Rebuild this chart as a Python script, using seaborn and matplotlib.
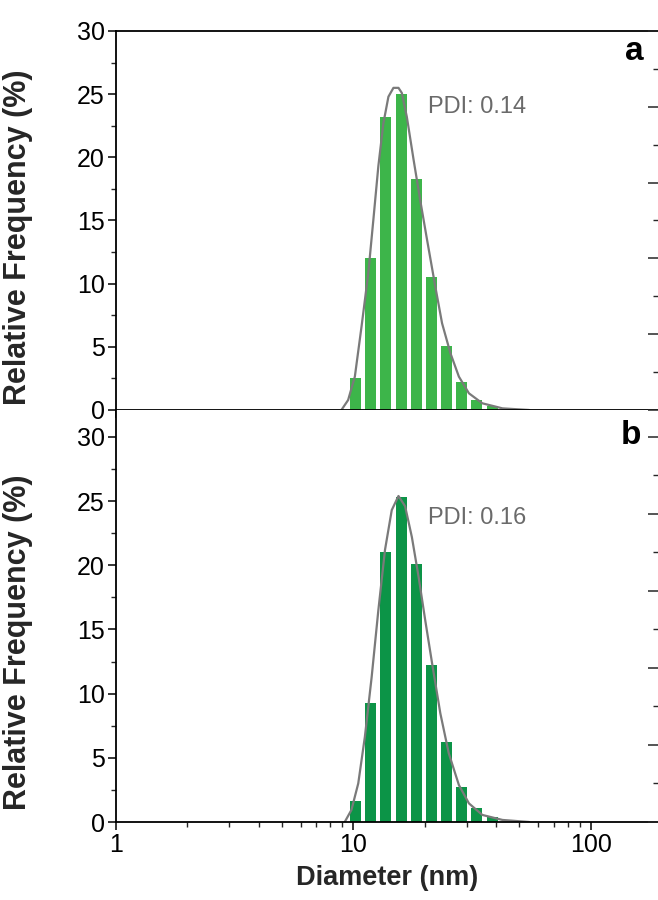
import numpy as np
import pandas as pd
import matplotlib
matplotlib.use("Agg")
import matplotlib.pyplot as plt
from matplotlib.ticker import FixedLocator, NullFormatter, MultipleLocator
import seaborn as sns

# ---------------- data ----------------
diameter_nm = [10.2, 11.8, 13.7, 15.9, 18.5, 21.4, 24.7, 28.6, 33.1, 38.4]
freq_a = [2.5, 12.0, 23.2, 25.0, 18.3, 10.5, 5.1, 2.2, 0.8, 0.3]
freq_b = [1.6, 9.3, 21.0, 25.3, 20.1, 12.2, 6.2, 2.7, 1.1, 0.4]

fit_a_x = [8.92, 9.52, 10.16, 10.84, 11.57, 12.15, 12.76, 13.40, 14.07, 14.77,
           15.51, 16.02, 16.82, 17.96, 19.15, 20.45, 22.17, 23.67, 25.67, 27.86,
           30.71, 34.97, 42.5, 55.1]
fit_a_y = [0.0, 0.79, 2.64, 6.6, 10.8, 15.0, 19.3, 22.7, 24.8, 25.5,
           25.5, 25.1, 23.2, 19.8, 16.6, 13.5, 9.76, 6.86, 4.49, 2.64,
           1.32, 0.53, 0.13, 0.0]
fit_b_x = [9.21, 9.83, 10.50, 11.20, 11.96, 12.76, 13.61, 14.53, 15.51, 16.54,
           17.66, 18.85, 20.11, 21.47, 23.27, 25.26, 27.86, 30.71, 34.97, 42.5, 55.1]
fit_b_y = [0.0, 0.94, 3.0, 6.65, 11.3, 16.5, 21.2, 24.3, 25.4, 24.6,
           22.2, 19.1, 15.7, 12.4, 8.47, 5.35, 2.88, 1.45, 0.55, 0.16, 0.0]

pdi_labels = ["PDI: 0.14", "PDI: 0.16"]
panel_labels = ["a", "b"]
x_ticks = [1, 10, 100]
x_ticklabels = ["1", "10", "100"]
y_ticks = [0, 5, 10, 15, 20, 25, 30]

# ---------------- style ----------------
sns.set_style("ticks")
plt.rcParams["font.family"] = ["Liberation Sans", "DejaVu Sans"]

bar_colors = ["#3db54a", "#0c9447"]
curve_color = "#7a7a7a"
text_gray = "#6a6a6a"

fig = plt.figure(figsize=(6.58, 9.0), dpi=100)
W, H = 658.0, 900.0
x_left = 115.7 / W
ax_a = fig.add_axes([x_left, 1 - 410 / H, 1.0 - x_left, (410 - 31) / H])
ax_b = fig.add_axes([x_left, 1 - 822 / H, 1.0 - x_left, (822 - 410) / H])

# log-space bin edges from the bar centres
logc = np.log10(diameter_nm)
mids = (logc[:-1] + logc[1:]) / 2
edges = np.concatenate([[logc[0] - (mids[0] - logc[0])], mids,
                        [logc[-1] + (logc[-1] - mids[-1])]])
edges = [float(e) for e in edges]

panels = [
    (ax_a, freq_a, fit_a_x, fit_a_y, bar_colors[0], (0, 30), 0.456, 0.80, 0.947, 0.957),
    (ax_b, freq_b, fit_b_x, fit_b_y, bar_colors[1], (0, 32.1), 0.437, 0.738, 0.937, 0.951),
]

for i, (ax, freq, fx, fy, col, ylim, ylab_y, pdi_y, lab_y, lab_x) in enumerate(panels):
    df = pd.DataFrame({"d": diameter_nm, "f": freq})
    sns.histplot(data=df, x="d", weights="f", bins=edges, log_scale=True,
                 shrink=0.73, color=col, alpha=1.0, linewidth=0, ax=ax)
    sns.lineplot(x=fx, y=fy, color=curve_color, linewidth=1.6, ax=ax)

    ax.set_xscale("log")
    ax.set_xlim(1, 192)
    ax.set_ylim(*ylim)
    ax.xaxis.set_major_locator(FixedLocator(x_ticks))
    ax.set_xticklabels(x_ticklabels)
    ax.xaxis.set_minor_locator(FixedLocator(
        [m * 10 ** k for k in range(0, 3) for m in range(2, 10) if m * 10 ** k < 192]))
    ax.xaxis.set_minor_formatter(NullFormatter())
    ax.yaxis.set_major_locator(FixedLocator(y_ticks))
    ax.yaxis.set_minor_locator(FixedLocator([2.5 + 5 * k for k in range(6)]))

    ax.tick_params(axis="both", which="major", direction="out", length=6, width=1.1,
                   labelsize=18, colors="black", pad=2)
    ax.tick_params(axis="both", which="minor", direction="out", length=3.5, width=1.0)
    ax.tick_params(axis="y", right=False)
    for s in ["left", "bottom", "top"]:
        ax.spines[s].set_linewidth(1.3)
        ax.spines[s].set_color("black")
    ax.spines["right"].set_visible(False)
    if i == 1:
        ax.spines["top"].set_visible(False)

    ax.set_ylabel("Relative Frequency (%)", fontsize=22, fontweight="bold")
    ax.yaxis.set_label_coords(-0.1525, ylab_y)
    ax.grid(False)

    ax.text(0.576, pdi_y, pdi_labels[i], transform=ax.transAxes, fontsize=17,
            color=text_gray, va="center", ha="left")
    ax.text(lab_x, lab_y, panel_labels[i], transform=ax.transAxes, fontsize=24,
            fontweight="bold", va="center", ha="center", color="black")

    # right-hand secondary axis (ticks only, labels outside the picture)
    tw = ax.twinx()
    tw.set_ylim(ylim[0] * 100 / 30, ylim[1] * 100 / 30)
    tw.yaxis.set_major_locator(MultipleLocator(20))
    tw.yaxis.set_minor_locator(MultipleLocator(10))
    tw.tick_params(axis="y", which="major", direction="in", length=7, width=1.1,
                   labelright=False)
    tw.tick_params(axis="y", which="minor", direction="in", length=3.5, width=1.0)
    for s in tw.spines.values():
        s.set_visible(False)

ax_a.tick_params(axis="x", labelbottom=False)
ax_a.set_xlabel("")
ax_b.set_xlabel("Diameter (nm)", fontsize=19.5, fontweight="bold", labelpad=6)

fig.savefig("out.png", dpi=100)
